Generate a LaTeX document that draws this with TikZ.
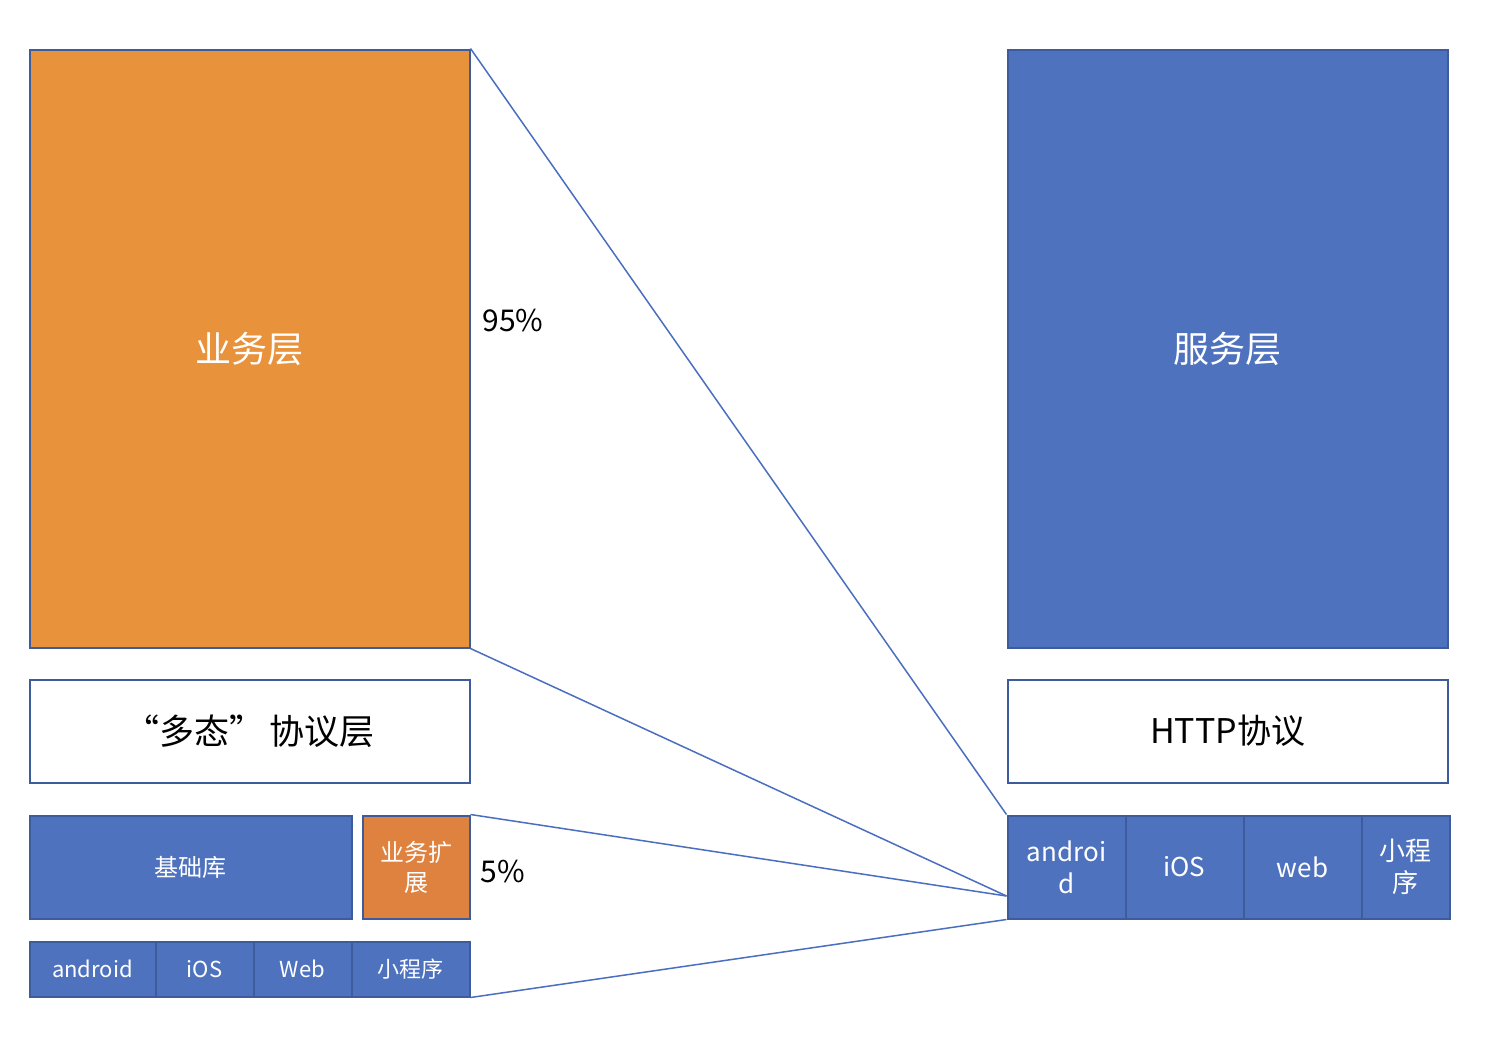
\documentclass[tikz,border=0pt]{standalone}
\usepackage{fontspec}
\setmainfont{Noto Sans CJK SC}
\usepackage{tikz}
\usetikzlibrary{positioning}
\definecolor{layerorange}{HTML}{E8923B}
\definecolor{extorange}{HTML}{E0823F}
\definecolor{layerblue}{HTML}{4E72BE}
\definecolor{edgeblue}{HTML}{3E5C9C}
\definecolor{linkblue}{HTML}{4A6FC0}
\tikzset{
  block/.style={draw=edgeblue,line width=1pt,inner sep=0pt,anchor=north west,align=center},
  orangebox/.style={block,fill=layerorange,text=white},
  bluebox/.style={block,fill=layerblue,text=white},
  whitebox/.style={block,fill=white,text=black},
  link/.style={draw=linkblue,line width=0.75pt},
  pct/.style={anchor=west,inner sep=0pt,font=\fontsize{15}{17}\selectfont}
}
\begin{document}
\begin{tikzpicture}[x=0.5pt,y=-0.5pt]
\fill[white] (0,0) rectangle (1490,1040);
% left side
\node[orangebox,minimum width=220pt,minimum height=299pt,font=\fontsize{18}{20}\selectfont] (ywc) at (28.5,48.5) {业务层};
\node[whitebox,minimum width=220pt,minimum height=51.5pt,font=\fontsize{17.5}{20}\selectfont] (dtxy) at (28.5,678.5) {“多态”\,协议层};
\node[bluebox,minimum width=161pt,minimum height=51.5pt,font=\fontsize{12}{14}\selectfont] (jck) at (28.5,814.5) {基础库};
\node[block,fill=extorange,text=white,minimum width=53.5pt,minimum height=51.5pt,font=\fontsize{12}{15}\selectfont] (ywkz) at (361.5,814.5) {业务扩\\展};
\node[bluebox,minimum width=63pt,minimum height=27.5pt,font=\fontsize{11}{13}\selectfont] (lan) at (28.5,940.5) {android};
\node[bluebox,minimum width=49pt,minimum height=27.5pt,font=\fontsize{11}{13}\selectfont] (lios) at (154.5,940.5) {iOS};
\node[bluebox,minimum width=49pt,minimum height=27.5pt,font=\fontsize{11}{13}\selectfont] (lweb) at (252.5,940.5) {Web};
\node[bluebox,minimum width=59pt,minimum height=27.5pt,font=\fontsize{11}{13}\selectfont] (lmp) at (350.5,940.5) {小程序};
\node[pct] (p95) at (482,320) {95\%};
\node[pct] (p5) at (480,871) {5\%};
% right side
\node[bluebox,minimum width=220pt,minimum height=299pt,font=\fontsize{18}{20}\selectfont] (fwc) at (1006.5,48.5) {服务层};
\node[whitebox,minimum width=220pt,minimum height=51.5pt,font=\fontsize{17}{20}\selectfont] (http) at (1006.5,678.5) {HTTP协议};
\node[bluebox,minimum width=59pt,minimum height=51.5pt,font=\fontsize{13}{16}\selectfont] (ran) at (1006.5,814.5) {androi\\d};
\node[bluebox,minimum width=59pt,minimum height=51.5pt,font=\fontsize{13}{16}\selectfont] (rios) at (1124.5,814.5) {iOS};
\node[bluebox,minimum width=59pt,minimum height=51.5pt,font=\fontsize{13}{16}\selectfont] (rweb) at (1242.5,814.5) {web};
\node[bluebox,minimum width=44pt,minimum height=51.5pt,font=\fontsize{13}{16}\selectfont] (rmp) at (1360.5,814.5) {小程\\序};
% links
\coordinate (meet) at (1006.5,896);
\draw[link] (ywc.north east) -- (ran.north west);
\draw[link] (ywc.south east) -- (meet);
\draw[link] (ywkz.north east) -- (meet);
\draw[link] (lmp.south east) -- (ran.south west);
\end{tikzpicture}
\end{document}
